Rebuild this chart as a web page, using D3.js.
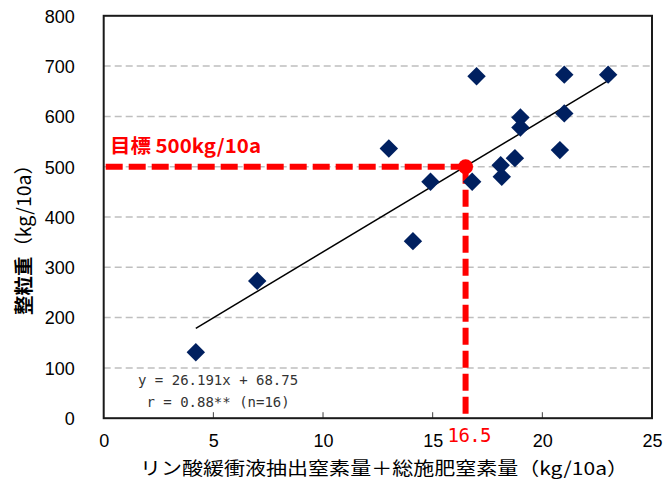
<!DOCTYPE html>
<html><head><meta charset="utf-8">
<script src="https://cdn.jsdelivr.net/npm/d3@7"></script>
<style>body{margin:0;background:#fff}svg{display:block}</style>
</head><body>
<script>
const xValues = [4.2, 7.0, 13.0, 14.1, 14.9, 16.8, 17.0, 18.1, 18.15, 18.75, 19.0, 19.0, 20.8, 21.0, 21.0, 23.0];
const yValues = [131, 273, 536, 352, 470, 470, 680, 503, 480, 517, 598, 578, 533, 606, 683, 683];
const xTicks = [0, 5, 10, 15, 20, 25];
const yTicks = [0, 100, 200, 300, 400, 500, 600, 700, 800];
const slope = 26.191, intercept = 68.75;
const trendRange = [4.2, 23.0];
const targetX = 16.5, targetY = 500;
const eqLines = ["y = 26.191x + 68.75", " r = 0.88** (n=16)"];
const targetLabel = "目標 500kg/10a";
const xTitle = "リン酸緩衝液抽出窒素量＋総施肥窒素量（kg/10a）";

const W = 671, H = 479;
const L = 103.7, R = 652, T = 15.8, B = 418.2;
const svg = d3.select("body").append("svg").attr("width", W).attr("height", H);
const x = d3.scaleLinear().domain([0, 25]).range([L, R]);
const y = d3.scaleLinear().domain([0, 800]).range([B, T]);
const font = "'Liberation Sans', Arial, sans-serif";

// gridlines
svg.append("g").selectAll("line").data(yTicks.filter(d => d > 0 && d < 800)).join("line")
  .attr("x1", L).attr("x2", R).attr("y1", d => y(d)).attr("y2", d => y(d))
  .attr("stroke", "#bfbfbf").attr("stroke-width", 1.5).attr("stroke-dasharray", "7,4");

// y axis labels
const yAxis = d3.axisLeft(y).tickValues(yTicks).tickSize(0).tickPadding(29);
svg.append("g").attr("transform", `translate(${L},0)`).call(yAxis)
  .call(g => g.select(".domain").remove())
  .call(g => g.selectAll("text").attr("font-family", font).attr("font-size", 18).attr("fill", "#000").attr("dy", "0.35em"));

// x axis: inward ticks
const xAxis = d3.axisBottom(x).tickValues(xTicks).tickSize(0).tickPadding(16);
svg.append("g").attr("transform", `translate(0,${B})`).call(xAxis)
  .call(g => g.select(".domain").remove())
  .call(g => g.selectAll("text").attr("font-family", font).attr("font-size", 18).attr("fill", "#000"));
svg.append("g").selectAll("line").data(xTicks.filter(d => d > 0 && d < 25)).join("line")
  .attr("x1", d => x(d)).attr("x2", d => x(d)).attr("y1", B).attr("y2", B - 6)
  .attr("stroke", "#404040").attr("stroke-width", 1);

// frame
svg.append("rect").attr("x", L).attr("y", T).attr("width", R - L).attr("height", B - T)
  .attr("fill", "none").attr("stroke", "#1a1a1a").attr("stroke-width", 2);

// trend line
svg.append("line")
  .attr("x1", x(trendRange[0])).attr("y1", y(slope * trendRange[0] + intercept))
  .attr("x2", x(trendRange[1])).attr("y2", y(slope * trendRange[1] + intercept))
  .attr("stroke", "#000").attr("stroke-width", 1.5);

// target dashed lines
svg.append("line").attr("x1", x(0) + 2).attr("x2", x(targetX)).attr("y1", y(targetY)).attr("y2", y(targetY))
  .attr("stroke", "#ff0000").attr("stroke-width", 6).attr("stroke-dasharray", "17,6");
svg.append("line").attr("x1", x(targetX)).attr("x2", x(targetX)).attr("y1", y(targetY)).attr("y2", y(0))
  .attr("stroke", "#ff0000").attr("stroke-width", 6).attr("stroke-dasharray", "17,6");

// points
const diamond = d3.symbol().type(d3.symbolSquare).size(170);
svg.append("g").selectAll("path").data(xValues.map((v, i) => [v, yValues[i]])).join("path")
  .attr("d", diamond)
  .attr("transform", d => `translate(${x(d[0])},${y(d[1])}) rotate(45)`)
  .attr("fill", "#002060");

// target point
svg.append("circle").attr("cx", x(targetX)).attr("cy", y(targetY)).attr("r", 7.5).attr("fill", "#ff0000");

// target label
svg.append("text").attr("x", 110).attr("y", 153).text(targetLabel)
  .attr("font-family", "'Noto Sans CJK JP', sans-serif").attr("font-weight", "bold")
  .attr("font-size", 19).attr("fill", "#ff0000")
  .attr("textLength", 151).attr("lengthAdjust", "spacingAndGlyphs");

// 16.5 label
svg.append("text").attr("x", x(targetX) + 4).attr("y", 442).attr("text-anchor", "middle").text(String(targetX))
  .attr("font-family", "'DejaVu Sans Mono', monospace").attr("font-size", 19).attr("fill", "#ff0000")
  .attr("textLength", 44).attr("lengthAdjust", "spacing");

// equation
svg.append("g").selectAll("text").data(eqLines).join("text")
  .attr("x", 138).attr("y", (d, i) => 385 + i * 22).text(d => d)
  .attr("xml:space", "preserve").style("white-space", "pre")
  .attr("font-family", "'DejaVu Sans Mono', monospace").attr("font-size", 14).attr("fill", "#333");

// x title
svg.append("text").attr("x", 140).attr("y", 475).text(xTitle)
  .attr("font-family", "'Noto Sans CJK JP', sans-serif").attr("font-size", 18).attr("fill", "#000")
  .attr("textLength", 488).attr("lengthAdjust", "spacingAndGlyphs");

// y title
const yt = svg.append("text").attr("transform", "translate(31,235) rotate(-90)").attr("text-anchor", "middle")
  .attr("font-family", "'Noto Sans CJK JP', sans-serif").attr("font-size", 19).attr("fill", "#000")
  .attr("textLength", 160).attr("lengthAdjust", "spacingAndGlyphs");
yt.append("tspan").attr("font-weight", "bold").text("整粒重");
yt.append("tspan").text("（kg/10a）");
</script>
</body></html>
